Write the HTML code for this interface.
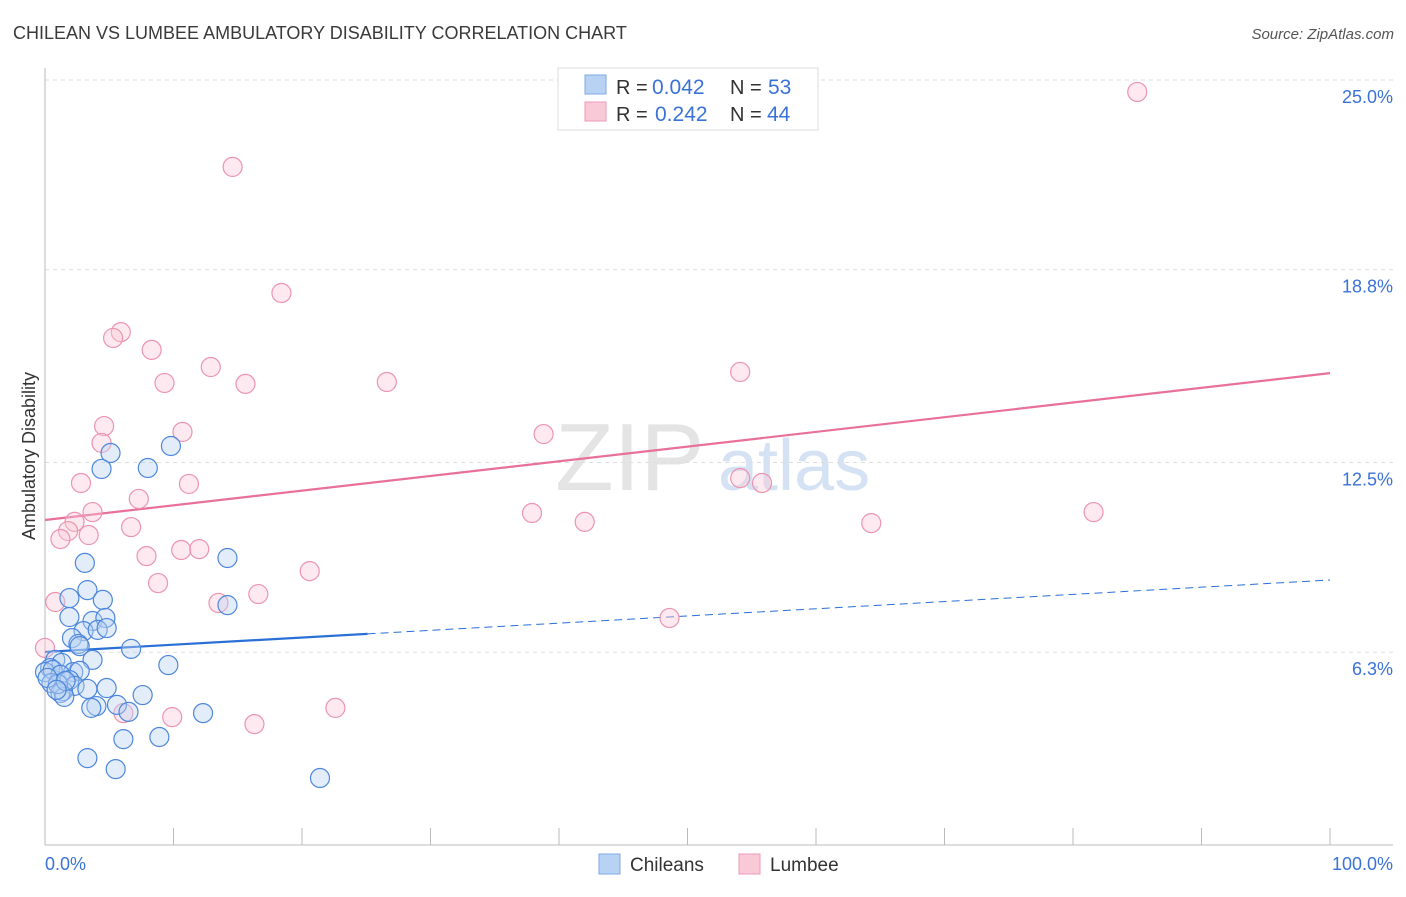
<!DOCTYPE html>
<html><head><meta charset="utf-8"><style>
body{margin:0;background:#fff;font-family:"Liberation Sans",sans-serif;}
svg text{font-family:"Liberation Sans",sans-serif;}
</style></head><body>
<svg id="chart" width="1406" height="892" viewBox="0 0 1406 892">
<text x="13" y="39" font-size="18" fill="#3a3a3a">CHILEAN VS LUMBEE AMBULATORY DISABILITY CORRELATION CHART</text>
<text x="1394" y="39" font-size="15" fill="#555" text-anchor="end" font-style="italic">Source: ZipAtlas.com</text>
<g>
<text x="555" y="490" font-size="96" fill="#e4e4e4" font-family="Liberation Serif">ZIP</text>
<text x="718" y="490" font-size="72" fill="#d4e2f4">atlas</text>
</g>
<g id="grid"></g>
<g id="axes"></g>
<g id="trends"></g>
<g id="points"></g>
<text x="35" y="456" font-size="18" fill="#333" text-anchor="middle" transform="rotate(-90 35 456)">Ambulatory Disability</text>
<g>
<rect x="558" y="68" width="260" height="62" fill="#fff" stroke="#ddd"/>
<rect x="585" y="75" width="21" height="19" fill="#b8d2f3" stroke="#7ea9e4"/>
<text x="616" y="94" font-size="20" fill="#333">R =</text>
<text x="652" y="94" font-size="21" fill="#3a72d8">0.042</text>
<text x="730" y="94" font-size="20" fill="#333">N =</text>
<text x="768" y="94" font-size="21" fill="#3a72d8">53</text>
<rect x="585" y="102" width="21" height="19" fill="#f9c9d7" stroke="#ee9ab4"/>
<text x="616" y="121" font-size="20" fill="#333">R =</text>
<text x="655" y="121" font-size="21" fill="#3a72d8">0.242</text>
<text x="730" y="121" font-size="20" fill="#333">N =</text>
<text x="767" y="121" font-size="21" fill="#3a72d8">44</text>
</g>
<g>
<rect x="599" y="854" width="21" height="20" fill="#b8d2f3" stroke="#7ea9e4"/>
<text x="630" y="871" font-size="19" fill="#333">Chileans</text>
<rect x="739" y="854" width="21" height="20" fill="#f9c9d7" stroke="#ee9ab4"/>
<text x="770" y="871" font-size="19" fill="#333">Lumbee</text>
</g>
</svg>
<script>
const yTicks = [25.0, 18.8, 12.5, 6.3];
const yTickLabels = ["25.0%", "18.8%", "12.5%", "6.3%"];
const xTickLabels = ["0.0%", "100.0%"];
const chileanX = [3.1,3.3,1.9,4.5,1.9,3.7,4.7,3.0,4.1,4.8,2.1,2.6,2.7,6.7,3.7,0.8,1.3,0.4,0.0,0.6,2.2,2.7,1.2,1.9,0.5,2.3,3.3,4.8,1.4,1.2,1.5,7.6,4.0,3.6,5.6,6.5,8.9,6.1,3.3,5.5,21.4,9.6,12.3,14.2,14.2,8.0,9.8,5.1,4.4,1.0,1.6,0.2,0.9];
const chileanY = [9.22,8.33,8.07,8.01,7.45,7.32,7.42,6.99,7.03,7.09,6.76,6.57,6.50,6.41,6.05,6.05,5.95,5.78,5.65,5.72,5.65,5.69,5.56,5.39,5.29,5.20,5.10,5.13,5.03,4.97,4.84,4.90,4.54,4.48,4.58,4.35,3.53,3.46,2.84,2.48,2.19,5.88,4.31,7.84,9.38,12.32,13.04,12.81,12.29,5.26,5.36,5.46,5.07];
const lumbeeX = [85.0,14.6,18.4,5.9,5.3,8.3,12.9,9.3,15.6,26.6,54.1,4.6,10.7,4.4,38.8,2.8,11.2,7.3,3.7,2.3,1.8,1.2,3.4,6.7,37.9,42.0,64.3,81.6,54.1,55.8,10.6,7.9,12.0,20.6,8.8,16.6,13.5,0.8,48.6,6.1,9.9,16.3,22.6,0.0];
const lumbeeY = [24.61,22.16,18.04,16.76,16.57,16.18,15.62,15.10,15.07,15.13,15.46,13.69,13.50,13.14,13.43,11.83,11.80,11.31,10.88,10.56,10.26,10.00,10.13,10.39,10.85,10.56,10.52,10.88,11.99,11.83,9.64,9.44,9.67,8.95,8.56,8.20,7.91,7.94,7.42,4.31,4.18,3.95,4.48,6.44];
const chileanTrend = [6.31, 8.66];
const chileanSolidEnd = 25.1;
const lumbeeTrend = [10.62, 15.42];

const NS = "http://www.w3.org/2000/svg";
const xs = v => 45 + v * 12.85;
const ys = v => 845 - v * 30.6;
function mk(parent, tag, attrs){const e=document.createElementNS(NS,tag);for(const k in attrs)e.setAttribute(k,attrs[k]);document.getElementById(parent).appendChild(e);return e;}

yTicks.forEach((t,i)=>{
  const l = mk('grid','line',{x1:45,x2:1393,y1:ys(t),y2:ys(t),stroke:'#ddd','stroke-dasharray':'4,4'});
  
  
  const tx = mk('grid','text',{x:1393,y:ys(t)+23,'font-size':18,fill:'#3a72d8','text-anchor':'end'});
  tx.textContent = yTickLabels[i];
  
  
});
let a = mk('axes','line',{x1:45,x2:45,y1:68,y2:845,stroke:'#bbb'});


a = mk('axes','line',{x1:45,x2:1393,y1:845,y2:845,stroke:'#bbb'});


for(let i=0;i<=10;i++){
  const t = mk('axes','line',{x1:xs(i*10),x2:xs(i*10),y1:828,y2:845,stroke:'#bbb'});
  
  
}
[[0,'start',45],[100,'end',1393]].forEach((d,i)=>{
  const tx = mk('axes','text',{x:d[2],y:870,'font-size':18,fill:'#3a72d8','text-anchor':d[1]});
  tx.textContent = xTickLabels[i];
  
  
});

function dot(x,y,fill,stroke,name){
  const c = mk('points','circle',{cx:xs(x),cy:ys(y),r:9.5,fill:fill,'fill-opacity':0.4,stroke:stroke,'stroke-width':1.2});
  
  
}
lumbeeX.forEach((x,i)=>dot(x,lumbeeY[i],'#f9c9d7','#ec94b0','lumbee-point'));
chileanX.forEach((x,i)=>dot(x,chileanY[i],'#b8d2f3','#4d87dc','chilean-point'));

const by = x => chileanTrend[0] + (chileanTrend[1]-chileanTrend[0])*x/100;
let tl = mk('trends','line',{x1:xs(0),y1:ys(lumbeeTrend[0]),x2:xs(100),y2:ys(lumbeeTrend[1]),stroke:'#e8709a','stroke-width':2.2});


tl = mk('trends','line',{x1:xs(0),y1:ys(by(0)),x2:xs(chileanSolidEnd),y2:ys(by(chileanSolidEnd)),stroke:'#2a6fd6','stroke-width':2.2});


tl = mk('trends','line',{x1:xs(chileanSolidEnd),y1:ys(by(chileanSolidEnd)),x2:xs(100),y2:ys(by(100)),stroke:'#2a6fd6','stroke-width':1,'stroke-dasharray':'8,5'});


</script>
</body></html>
